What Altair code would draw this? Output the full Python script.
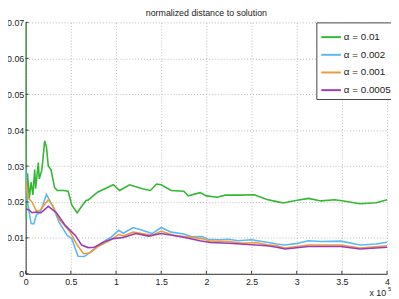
import altair as alt
import pandas as pd

series_names = ["α = 0.01", "α = 0.002", "α = 0.001", "α = 0.0005"]
series_colors = ["#33b833", "#5cb8f5", "#ef9a3a", "#9a3cb8"]

green_x = [0, 0.005, 0.02, 0.03, 0.04, 0.06, 0.08, 0.10, 0.11, 0.14, 0.15, 0.18, 0.21, 0.23, 0.25,
           0.28, 0.32, 0.35, 0.42, 0.47, 0.51, 0.57, 0.62, 0.67, 0.69, 0.80, 0.97, 1.04, 1.15, 1.29,
           1.38, 1.45, 1.50, 1.61, 1.75, 1.80, 1.93, 2.00, 2.12, 2.21, 2.35, 2.53, 2.67, 2.78, 2.85,
           2.99, 3.13, 3.27, 3.42, 3.52, 3.70, 3.88, 4.00]
green_y = [0.070, 0.015, 0.028, 0.0247, 0.021, 0.0255, 0.022, 0.029, 0.0237, 0.031, 0.0264, 0.029,
           0.037, 0.0353, 0.030, 0.029, 0.024, 0.0232, 0.0232, 0.023, 0.0192, 0.017, 0.0188, 0.0205,
           0.0205, 0.0228, 0.0248, 0.0232, 0.0248, 0.0237, 0.0232, 0.025, 0.0248, 0.0232, 0.023,
           0.0217, 0.0226, 0.0217, 0.0213, 0.0219, 0.0219, 0.022, 0.0207, 0.0201, 0.0197, 0.0204,
           0.021, 0.0203, 0.0206, 0.0203, 0.0195, 0.0198, 0.0206]

blue_x = [0, 0.02, 0.06, 0.09, 0.12, 0.16, 0.23, 0.30, 0.37, 0.46, 0.51, 0.58, 0.65, 0.73, 0.83,
          0.94, 1.03, 1.08, 1.19, 1.29, 1.40, 1.50, 1.61, 1.75, 1.84, 1.95, 2.02, 2.14, 2.25, 2.35,
          2.50, 2.67, 2.78, 2.87, 2.99, 3.13, 3.27, 3.49, 3.70, 3.88, 4.00]
blue_y = [0.029, 0.020, 0.014, 0.0139, 0.0165, 0.017, 0.0221, 0.0188, 0.0143, 0.0107, 0.0098,
          0.0049, 0.0048, 0.0063, 0.0085, 0.0101, 0.0121, 0.0113, 0.0129, 0.0121, 0.0112, 0.0129,
          0.0116, 0.0111, 0.0103, 0.0104, 0.0096, 0.0095, 0.0096, 0.0092, 0.0095, 0.0088, 0.0083,
          0.0080, 0.0084, 0.0092, 0.0090, 0.0091, 0.0080, 0.0083, 0.0088]

orange_x = [0, 0.03, 0.07, 0.12, 0.16, 0.25, 0.30, 0.37, 0.48, 0.57, 0.64, 0.71, 0.80, 0.94, 1.03,
            1.08, 1.19, 1.40, 1.50, 1.64, 1.75, 1.95, 2.04, 2.25, 2.40, 2.55, 2.67, 2.78, 2.87,
            3.13, 3.49, 3.70, 4.00]
orange_y = [0.026, 0.021, 0.020, 0.0174, 0.0177, 0.0206, 0.019, 0.0152, 0.0121, 0.0080, 0.0056,
            0.0058, 0.0076, 0.0094, 0.0110, 0.0105, 0.0116, 0.0107, 0.0119, 0.0107, 0.0104, 0.0098,
            0.0091, 0.0090, 0.0085, 0.0087, 0.0081, 0.0078, 0.0072, 0.0080, 0.0080, 0.0072, 0.0078]

purple_x = [0, 0.03, 0.07, 0.12, 0.17, 0.25, 0.34, 0.44, 0.55, 0.62, 0.69, 0.76, 0.87, 0.97, 1.08,
            1.22, 1.36, 1.50, 1.72, 1.93, 2.04, 2.25, 2.55, 2.67, 2.78, 2.87, 3.13, 3.49, 3.70, 4.00]
purple_y = [0.018, 0.0179, 0.0170, 0.0172, 0.0170, 0.0188, 0.0170, 0.0134, 0.0107, 0.0080, 0.0073,
            0.0074, 0.0089, 0.0098, 0.0101, 0.0112, 0.0105, 0.0112, 0.0103, 0.0092, 0.0087, 0.0085,
            0.0080, 0.0078, 0.0074, 0.0069, 0.0076, 0.0076, 0.0069, 0.0074]

x_ticks = [0, 0.5, 1, 1.5, 2, 2.5, 3, 3.5, 4]
y_ticks = [0, 0.01, 0.02, 0.03, 0.04, 0.05, 0.06, 0.07]

rows = []
for name, xs, ys in zip(series_names, [green_x, blue_x, orange_x, purple_x],
                        [green_y, blue_y, orange_y, purple_y]):
    for i, (xv, yv) in enumerate(zip(xs, ys)):
        rows.append({"series": name, "x": xv, "y": yv, "i": i})
df = pd.DataFrame(rows)

W, H = 368, 256
FONT = "Liberation Sans"

xs = alt.Scale(domain=[0, 4], nice=False, zero=False)
ys = alt.Scale(domain=[0, 0.07], nice=False)

axis_common = dict(title=None, grid=True, gridDash=[1, 2], gridColor="#bbbbbb",
                   domainColor="#333333", tickSize=0, labelFontSize=9, labelFont=FONT,
                   labelColor="#222222", labelFlush=False, labelOverlap=False, format="~g")
x_axis = alt.Axis(values=x_ticks, labelPadding=4, **axis_common)
y_axis = alt.Axis(values=y_ticks, labelPadding=2, **axis_common)

lines = alt.Chart(df).mark_line(strokeWidth=1.6, clip=True).encode(
    x=alt.X("x:Q", scale=xs, axis=x_axis),
    y=alt.Y("y:Q", scale=ys, axis=y_axis),
    color=alt.Color("series:N", scale=alt.Scale(domain=series_names, range=series_colors),
                    legend=alt.Legend(title=None, orient="none", legendX=296, legendY=0,
                                      symbolType="stroke", symbolSize=400, symbolStrokeWidth=2,
                                      labelFontSize=10, labelFont=FONT, labelColor="#222222",
                                      labelOffset=2, rowPadding=2, padding=4,
                                      fillColor="white", strokeColor="#444444")),
    order="i:Q",
)

ytick_df = pd.DataFrame({"y": y_ticks})
yt = alt.Chart(ytick_df).mark_rule(color="#333333", strokeWidth=1).encode(
    y=alt.Y("y:Q", scale=ys, axis=y_axis), x=alt.value(0), x2=alt.value(3))
xtick_df = pd.DataFrame({"x": x_ticks})
xt = alt.Chart(xtick_df).mark_rule(color="#333333", strokeWidth=1).encode(
    x=alt.X("x:Q", scale=xs, axis=x_axis), y=alt.value(H), y2=alt.value(H - 3))

exp1 = alt.Chart(pd.DataFrame({"t": ["x 10"]})).mark_text(
    fontSize=9, font=FONT, align="left", baseline="middle", color="#222222").encode(
    text="t:N", x=alt.value(W - 18), y=alt.value(H + 20))
exp2 = alt.Chart(pd.DataFrame({"t": ["5"]})).mark_text(
    fontSize=6, font=FONT, align="left", baseline="middle", color="#222222").encode(
    text="t:N", x=alt.value(W + 1), y=alt.value(H + 16))

chart = alt.layer(lines, yt, xt, exp1, exp2).properties(
    width=W, height=H,
    title=alt.TitleParams("normalized distance to solution", fontSize=9, font=FONT,
                          fontWeight="normal", color="#222222", offset=1, anchor="middle"),
    autosize=alt.AutoSizeParams(type="none"),
    padding={"left": 18, "top": 12, "right": 4, "bottom": 24},
).configure_view(stroke="transparent")

chart.save("out.html", embed_options={"renderer": "svg", "actions": False})
